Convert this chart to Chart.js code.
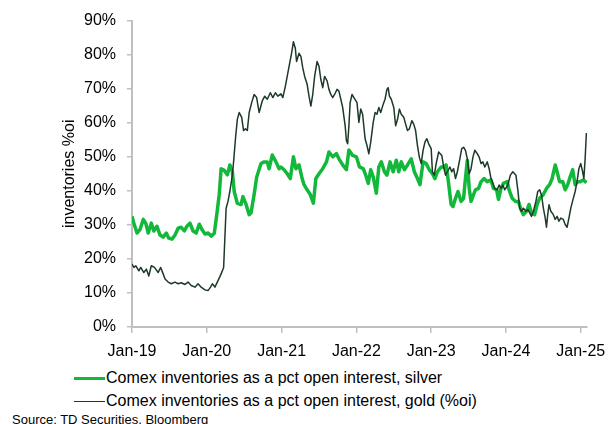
<!DOCTYPE html>
<html>
<head>
<meta charset="utf-8">
<script src="https://cdn.jsdelivr.net/npm/chart.js@4.4.1/dist/chart.umd.min.js"></script>
<style>
  html, body { margin: 0; padding: 0; background: #fff; }
  body { width: 615px; height: 424px; position: relative; overflow: hidden;
         font-family: "Liberation Sans", Arial, sans-serif; color: #000; }
  #wrap { position: absolute; left: 0; top: 0; width: 615px; height: 365px; }
  .legend { position: absolute; left: 74px; font-size: 16px; line-height: 20px; white-space: nowrap; }
  .legend .swatch { display: inline-block; width: 31px; vertical-align: middle; margin-right: 1px; }
  #source { position: absolute; left: 12px; top: 412px; font-size: 13px; line-height: 16px; white-space: nowrap; }
</style>
</head>
<body>
<div id="wrap"><canvas id="chart"></canvas></div>
<div class="legend" style="top:368px"><span class="swatch" style="border-top:3px solid #12b83a"></span>Comex inventories as a pct open interest, silver</div>
<div class="legend" style="top:391px"><span class="swatch" style="border-top:1.5px solid #1d3a28"></span>Comex inventories as a pct open interest, gold (%oi)</div>
<div id="source">Source: TD Securities, Bloomberg</div>

<script>
// months since Jan-2019
const yearLabels = ['Jan-19', 'Jan-20', 'Jan-21', 'Jan-22', 'Jan-23', 'Jan-24', 'Jan-25'];

const silverMonths = [
  0.0, 0.3, 0.8, 1.3, 1.8, 2.2, 2.6, 3.1, 3.5, 4.0, 4.5, 5.0, 5.5, 5.9, 6.4, 6.9, 7.4, 7.9, 8.4, 8.8,
  9.3, 9.8, 10.3, 10.8, 11.2, 11.7, 12.2, 12.7, 13.2, 13.6, 14.0, 14.3, 14.8, 15.3, 15.7, 16.1, 16.4, 16.9,
  17.5, 17.8, 18.3, 18.8, 19.1, 19.6, 20.0, 20.7, 21.2, 21.7, 22.0, 22.5, 23.1, 23.6, 23.9, 24.4, 24.9,
  25.4, 25.9, 26.3, 26.8, 27.3, 27.6, 28.1, 28.6, 29.1, 29.5, 30.0, 30.6, 31.2, 31.6, 32.2, 32.8, 33.2,
  33.8, 34.4, 34.8, 35.4, 36.0, 36.5, 37.1, 37.5, 37.9, 38.3, 38.7, 39.2, 39.6, 40.0, 40.5, 40.9, 41.4,
  41.9, 42.4, 42.8, 43.2, 43.7, 44.2, 44.8, 45.3, 45.8, 46.2, 46.7, 47.2, 47.7, 48.2, 48.6, 49.0, 49.6,
  50.1, 50.4, 50.7, 51.2, 51.5, 51.9, 52.3, 52.8, 53.2, 53.4, 53.8, 54.1, 54.4, 54.8, 55.1, 55.6, 56.0,
  56.5, 57.0, 57.6, 58.0, 58.5, 58.8, 59.2, 59.6, 60.2, 60.5, 61.0, 61.5, 62.0, 62.4, 62.8, 63.3, 63.7,
  64.1, 64.6, 65.0, 65.4, 66.0, 66.5, 67.0, 67.4, 67.9, 68.2, 68.6, 69.1, 69.5, 69.9, 70.3, 70.7, 71.1,
  71.5, 71.9, 72.4, 72.9
];
const silverPct = [
  32.5, 30.5, 27.6, 28.7, 31.6, 30.5, 27.6, 30.5, 28.2, 29.6, 27.0, 26.4, 27.6, 26.1, 25.8, 27.0, 29.0, 29.3, 28.2, 29.6,
  30.5, 28.2, 27.6, 30.2, 28.7, 27.3, 27.6, 26.7, 27.5, 33.0, 39.0, 46.5, 46.0, 44.7, 47.6, 45.6, 39.8, 36.3,
  36.0, 38.3, 36.0, 33.0, 33.5, 39.0, 44.0, 48.0, 48.5, 48.5, 46.5, 50.5, 48.5, 46.5, 47.0, 46.2, 45.0,
  43.6, 50.0, 46.5, 47.6, 43.6, 41.8, 40.3, 38.9, 36.4, 43.6, 45.0, 46.5, 48.5, 51.4, 50.0, 50.9, 49.4,
  47.6, 46.2, 52.0, 50.4, 50.0, 47.0, 46.5, 44.6, 42.2, 46.2, 44.1, 39.3, 47.0, 48.5, 45.6, 44.6, 48.5,
  45.6, 49.0, 45.6, 48.5, 46.2, 47.6, 49.4, 45.6, 43.6, 41.8, 48.5, 48.0, 46.2, 45.0, 43.6, 45.6, 47.0,
  47.0, 47.6, 43.6, 36.0, 35.4, 37.8, 39.8, 36.9, 37.8, 41.8, 49.0, 40.7, 36.9, 38.9, 40.3, 40.7, 42.7,
  43.6, 42.7, 43.2, 40.7, 40.3, 37.5, 40.7, 42.2, 42.7, 40.3, 37.8, 36.9, 36.9, 34.5, 33.0, 34.0, 36.0,
  33.5, 33.0, 36.0, 37.8, 38.9, 40.7, 41.8, 43.6, 47.6, 45.6, 42.7, 42.7, 40.3, 41.8, 44.1, 46.2, 41.8,
  42.7, 42.7, 43.2, 42.4
];

const goldMonths = [
  0.0, 0.3, 0.6, 1.1, 1.4, 1.9, 2.3, 2.7, 3.1, 3.6, 4.2, 4.6, 5.0, 5.3, 5.8, 6.3, 6.9, 7.4, 7.9, 8.5,
  9.0, 9.5, 10.1, 10.6, 11.1, 11.7, 12.2, 12.6, 12.9, 13.3, 13.8, 14.3, 14.7, 14.9, 15.1, 15.4, 15.7, 16.1,
  16.3, 16.6, 16.9, 17.2, 17.6, 17.9, 18.2, 18.5, 18.8, 19.2, 19.6, 20.0, 20.4, 20.9, 21.3, 21.7, 22.2,
  22.6, 23.0, 23.4, 23.9, 24.2, 24.6, 24.9, 25.3, 25.6, 25.9, 26.2, 26.4, 26.8, 27.1, 27.4, 27.7, 28.1,
  28.4, 28.7, 29.0, 29.3, 29.7, 30.0, 30.3, 30.6, 30.9, 31.3, 31.6, 31.9, 32.2, 32.5, 32.9, 33.2, 33.5,
  33.8, 34.2, 34.4, 34.6, 34.8, 35.0, 35.3, 35.6, 36.1, 36.4, 36.7, 37.0, 37.4, 37.7, 38.0, 38.3, 38.7,
  39.0, 39.3, 39.6, 39.9, 40.3, 40.6, 40.9, 41.1, 41.3, 41.6, 42.0, 42.3, 42.6, 42.9, 43.2, 43.6, 43.9,
  44.2, 44.5, 44.9, 45.2, 45.5, 45.8, 46.1, 46.4, 46.7, 47.0, 47.3, 47.6, 48.0, 48.2, 48.5, 48.8, 49.2,
  49.7, 50.0, 50.3, 50.6, 51.0, 51.3, 51.6, 51.9, 52.2, 52.6, 52.9, 53.2, 53.5, 53.8, 54.1, 54.4, 54.7,
  55.0, 55.4, 55.7, 56.0, 56.3, 56.6, 57.0, 57.3, 57.6, 57.9, 58.2, 58.6, 58.9, 59.2, 59.5, 59.8, 60.3,
  60.7, 61.1, 61.6, 61.9, 62.2, 62.5, 62.8, 63.2, 63.5, 63.8, 64.1, 64.4, 64.8, 65.1, 65.4, 65.7, 66.0,
  66.3, 66.5, 66.7, 66.9, 67.2, 67.6, 67.9, 68.2, 68.5, 68.8, 69.2, 69.5, 69.8, 70.1, 70.4, 70.8, 71.1,
  71.4, 71.7, 72.0, 72.3, 72.5, 72.7, 72.9
];
const goldPct = [
  18.5, 17.5, 18.0, 16.5, 17.5, 16.0, 17.0, 15.0, 18.0, 17.5, 16.0, 17.5, 15.6, 14.1, 13.2, 12.7, 13.2, 12.7, 13.0, 12.5,
  13.2, 12.2, 11.7, 12.7, 11.7, 10.9, 10.7, 11.7, 12.7, 11.7, 13.6, 15.6, 17.5, 26.2, 34.9, 36.9, 39.8, 44.6,
  48.5, 55.3, 61.0, 63.0, 61.6, 57.7, 58.2, 57.7, 63.0, 65.9, 68.3, 67.4, 63.0, 66.4, 67.8, 66.9, 68.8,
  67.4, 68.8, 67.8, 68.5, 67.4, 70.7, 73.6, 77.5, 80.4, 83.8, 81.9, 78.0, 80.4, 79.5, 76.1, 73.6, 71.3,
  67.8, 64.9, 68.3, 73.6, 78.0, 76.6, 72.7, 70.3, 73.6, 72.3, 69.8, 68.3, 67.4, 68.3, 69.8, 69.3, 66.9,
  64.5, 59.1, 54.7, 53.8, 59.1, 65.9, 68.3, 67.4, 65.9, 60.1, 64.0, 62.5, 55.3, 53.3, 50.9, 54.3, 60.1,
  63.0, 62.5, 64.5, 63.0, 65.4, 66.9, 69.8, 70.3, 67.8, 66.9, 64.5, 59.1, 61.0, 64.0, 62.5, 61.6, 59.6,
  57.7, 58.2, 60.6, 59.6, 57.7, 53.3, 49.9, 48.0, 51.9, 54.3, 55.3, 53.8, 52.4, 45.6, 44.6, 48.0, 51.4,
  50.4, 47.0, 44.6, 45.6, 47.0, 45.6, 46.5, 43.6, 45.6, 49.4, 52.4, 52.8, 51.9, 49.4, 45.0, 46.5, 49.9,
  51.9, 50.9, 49.9, 48.0, 48.5, 47.0, 48.5, 46.5, 43.6, 42.2, 40.7, 40.3, 41.7, 40.7, 41.7, 40.3, 41.7,
  44.6, 45.6, 44.6, 40.3, 34.9, 34.0, 34.9, 34.0, 34.5, 33.5, 32.5, 34.0, 36.9, 39.8, 40.3, 38.8, 34.9,
  32.0, 29.3, 33.0, 35.9, 34.0, 33.0, 31.6, 32.5, 31.1, 32.0, 31.6, 30.1, 29.3, 32.0, 34.9, 37.8, 39.8,
  42.7, 46.5, 48.0, 45.6, 43.6, 49.4, 57.0
];

const toPoints = (xs, ys) => xs.map((x, i) => ({ x: x, y: ys[i] }));

const axisGrey = '#bfbfbf';
const tickFont = { family: '"Liberation Sans", Arial, sans-serif', size: 16 };

const ctx = document.getElementById('chart').getContext('2d');
const chart = new Chart(ctx, {
  type: 'line',
  data: {
    datasets: [
      {
        label: 'Comex inventories as a pct open interest, gold (%oi)',
        data: toPoints(goldMonths, goldPct),
        borderColor: '#1d3a28',
        borderWidth: 1.5,
        pointRadius: 0,
        tension: 0,
        borderJoinStyle: 'round'
      },
      {
        label: 'Comex inventories as a pct open interest, silver',
        data: toPoints(silverMonths, silverPct),
        borderColor: '#12b83a',
        borderWidth: 3.5,
        pointRadius: 0,
        tension: 0,
        borderJoinStyle: 'round'
      }
    ]
  },
  options: {
    responsive: true,
    maintainAspectRatio: false,
    animation: false,
    events: [],
    layout: { padding: { left: 56, top: 17, right: 28, bottom: 0 } },
    plugins: {
      legend: { display: false },
      tooltip: { enabled: false }
    },
    scales: {
      x: {
        type: 'linear',
        min: 0,
        max: 73,
        afterFit: (scale) => { scale.height = 38; },
        border: { color: axisGrey, width: 2 },
        grid: { drawOnChartArea: false, drawTicks: true, tickLength: 6, color: axisGrey, lineWidth: 1.5 },
        ticks: {
          stepSize: 12,
          includeBounds: false,
          autoSkip: false,
          maxRotation: 0,
          padding: 9,
          color: '#000',
          font: tickFont,
          callback: (v) => yearLabels[v / 12]
        }
      },
      y: {
        min: 0,
        max: 90,
        afterFit: (scale) => { scale.width = 76; },
        border: { color: axisGrey, width: 2 },
        grid: { drawOnChartArea: false, drawTicks: true, tickLength: 5, color: axisGrey, lineWidth: 1.5 },
        title: {
          display: true,
          text: 'inventories %oi',
          color: '#000',
          font: tickFont,
          padding: { top: 4, bottom: 4 }
        },
        ticks: {
          stepSize: 10,
          padding: 11,
          color: '#000',
          font: tickFont,
          callback: (v) => v + '%'
        }
      }
    }
  }
});
</script>
</body>
</html>
